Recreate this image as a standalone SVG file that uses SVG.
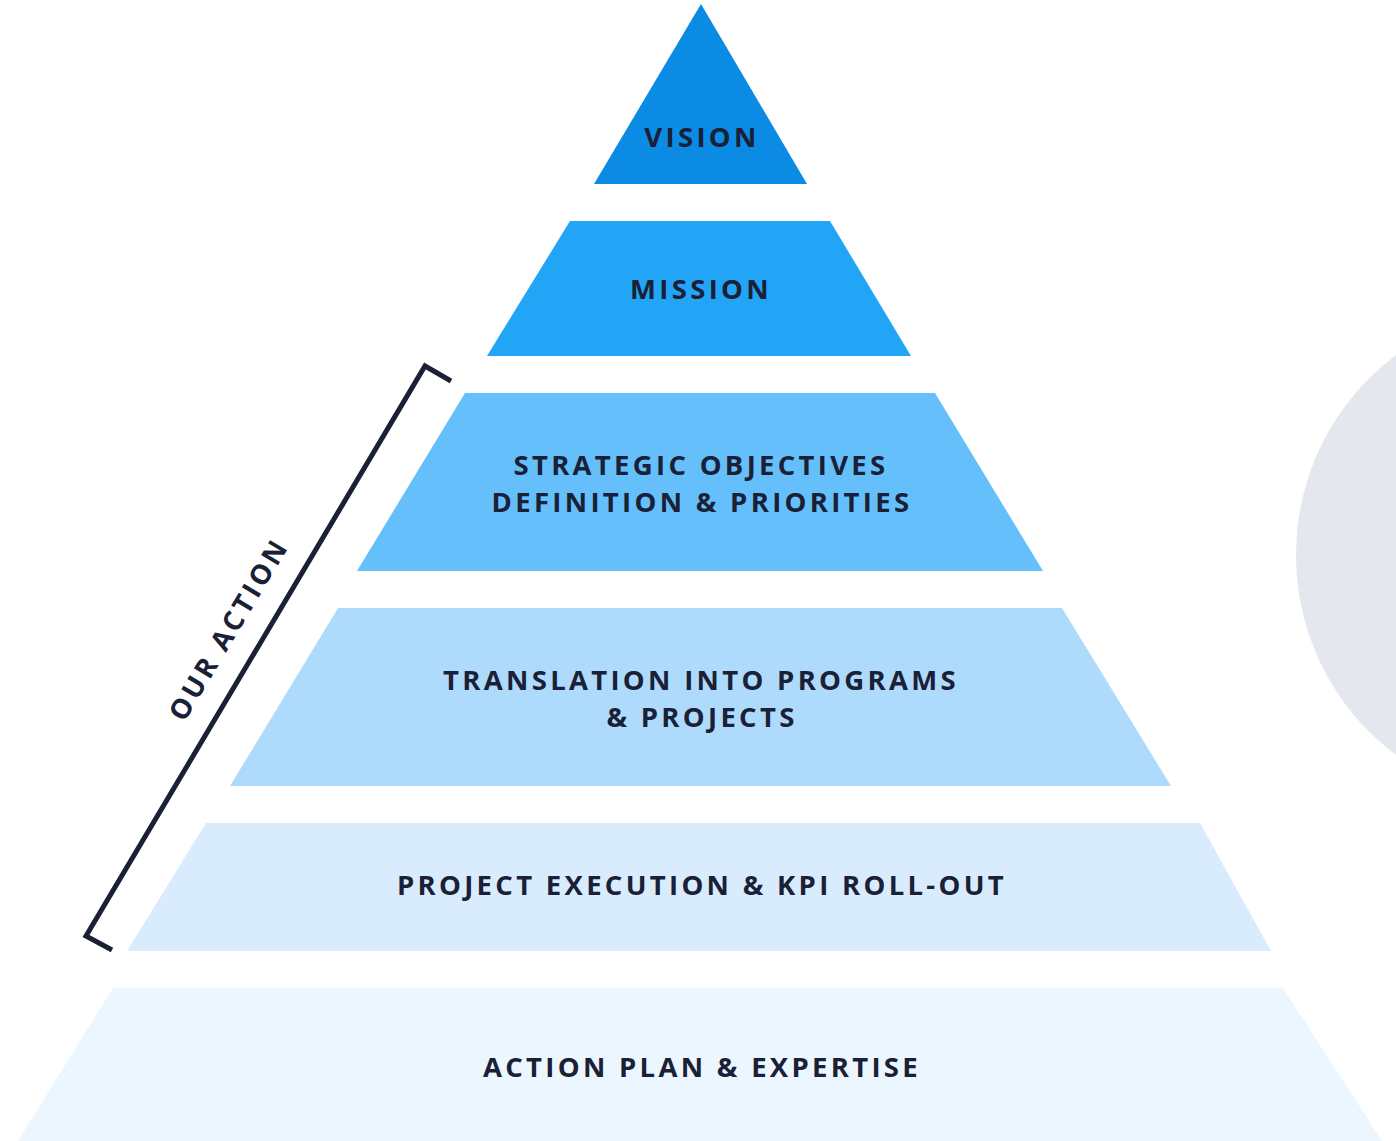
<svg xmlns="http://www.w3.org/2000/svg" width="1396" height="1141" viewBox="0 0 1396 1141">
<style>
.lbl{font-family:"Open Sans","Liberation Sans",sans-serif;font-weight:700;font-size:27.5px;letter-spacing:3.3px;fill:#1a2035;text-anchor:middle}
</style>
<rect width="1396" height="1141" fill="#ffffff"/>
<circle cx="1546" cy="555" r="250" fill="#e4e8ee"/>
<g id="vision"><polygon points="701,4 807,184 594,184" fill="#0b8be3"/><text class="lbl" x="702" y="147">VISION</text></g>
<g id="mission"><polygon points="570,221 830,221 911,356 487,356" fill="#22a5f7"/><text class="lbl" x="701" y="299">MISSION</text></g>
<g id="strategic"><polygon points="465,393 935,393 1043,571 357,571" fill="#64bffb"/><text class="lbl" x="701" y="475">STRATEGIC OBJECTIVES</text><text class="lbl" x="702" y="512">DEFINITION &amp; PRIORITIES</text></g>
<g id="translation"><polygon points="338,608 1062,608 1171,786 230,786" fill="#aedbfc"/><text class="lbl" x="701" y="690">TRANSLATION INTO PROGRAMS</text><text class="lbl" x="702" y="727">&amp; PROJECTS</text></g>
<g id="execution"><polygon points="206,823 1200,823 1271,951 127,951" fill="#d9ecfd"/><text class="lbl" x="702" y="895">PROJECT EXECUTION &amp; KPI ROLL-OUT</text></g>
<g id="action"><polygon points="113,988 1283,988 1382,1141 18,1141" fill="#ecf6ff"/><text class="lbl" x="702" y="1077">ACTION PLAN &amp; EXPERTISE</text></g>
<g id="bracket"><polyline points="451,381 425,366 86,936 112,950" fill="none" stroke="#1a2035" stroke-width="5"/><text class="lbl" transform="translate(237,634) rotate(-59.3)" x="0" y="0">OUR ACTION</text></g>
</svg>
